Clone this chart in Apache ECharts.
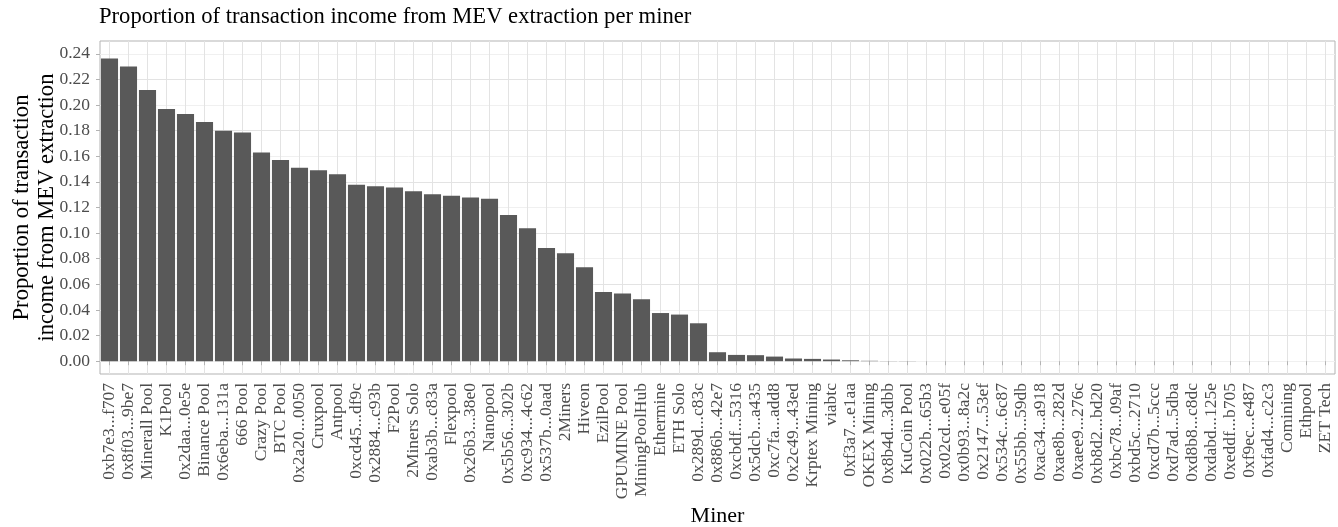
<!DOCTYPE html>
<html>
<head>
<meta charset="utf-8">
<script src="https://cdn.jsdelivr.net/npm/echarts@6/dist/echarts.min.js"></script>
<style>
html,body{margin:0;padding:0;background:#fff;}
#chart{width:1338px;height:527px;}
</style>
</head>
<body>
<div id="chart"></div>
<script>
const miners = [
  "0xb7e3...f707","0x8f03...9be7","Minerall Pool","K1Pool","0x2daa...0e5e","Binance Pool",
  "0x6eba...131a","666 Pool","Crazy Pool","BTC Pool","0x2a20...0050","Cruxpool","Antpool",
  "0xcd45...df9c","0x2884...c93b","F2Pool","2Miners Solo","0xab3b...c83a","Flexpool",
  "0x26b3...38e0","Nanopool","0x5b56...302b","0xc934...4c62","0x537b...0aad","2Miners",
  "Hiveon","EzilPool","GPUMINE Pool","MiningPoolHub","Ethermine","ETH Solo","0x289d...c83c",
  "0x886b...42e7","0xcbdf...5316","0x5dcb...a435","0xc7fa...add8","0x2c49...43ed",
  "Krptex Mining","viabtc","0xf3a7...e1aa","OKEX Mining","0x8b4d...3dbb","KuCoin Pool",
  "0x022b...65b3","0x02cd...e05f","0x0b93...8a2c","0x2147...53ef","0x534c...6c87",
  "0x55bb...59db","0xac34...a918","0xae8b...282d","0xaee9...276c","0xb8d2...bd20",
  "0xbc78...09af","0xbd5c...2710","0xcd7b...5ccc","0xd7ad...5dba","0xd8b8...c8dc",
  "0xdabd...125e","0xeddf...b705","0xf9ec...e487","0xfad4...c2c3","Comining","Ethpool","ZET Tech"
];
const mevShare = [
  0.2364,0.2300,0.2118,0.1970,0.1930,0.1868,0.1800,0.1785,0.1630,0.1570,
  0.1510,0.1491,0.1460,0.1377,0.1366,0.1356,0.1327,0.1304,0.1291,0.1278,
  0.1268,0.1142,0.1038,0.0884,0.0842,0.0733,0.0540,0.0528,0.0483,0.0376,
  0.0364,0.0296,0.0070,0.0049,0.0047,0.0036,0.0021,0.0018,0.0013,0.0007,
  0.0003,0.0001,0.0001,0,0,0,0,0,0,0,
  0,0,0,0,0,0,0,0,0,0,
  0,0,0,0,0
];
const yTicks = [0,0.02,0.04,0.06,0.08,0.10,0.12,0.14,0.16,0.18,0.20,0.22,0.24];

const serif = "'Liberation Serif','DejaVu Serif',serif";
const chart = echarts.init(document.getElementById('chart'));
chart.setOption({
  animation: false,
  title: {
    text: 'Proportion of transaction income from MEV extraction per miner',
    left: 94, top: 1,
    textStyle: {fontFamily: serif, fontSize: 22.6, fontWeight: 'normal', color: '#000'}
  },
  grid: {left: 100, right: 3, top: 41, bottom: 153, containLabel: false, outerBoundsMode: 'none',
         show: true, borderColor: '#b3b3b3', borderWidth: 1, backgroundColor: 'transparent'},
  xAxis: {
    type: 'category',
    data: miners,
    name: 'Miner',
    nameLocation: 'middle',
    nameGap: 131,
    nameMoveOverlap: false,
    nameTextStyle: {fontFamily: serif, fontSize: 22, color: '#000'},
    axisLine: {show: false},
    axisTick: {show: true, alignWithLabel: true, length: 4, lineStyle: {color: '#b3b3b3'}},
    splitLine: {show: true, alignWithLabel: true, lineStyle: {color: '#e3e3e3', width: 1}},
    axisLabel: {rotate: 90, interval: 0, margin: 9, fontFamily: serif, fontSize: 17.5, color: '#4d4d4d'}
  },
  yAxis: {
    type: 'value',
    min: -0.01, max: 0.25, interval: 0.01,
    name: 'Proportion of transaction\nincome from MEV extraction',
    nameLocation: 'middle',
    nameRotate: 90,
    nameGap: 40,
    nameMoveOverlap: false,
    nameTextStyle: {fontFamily: serif, fontSize: 22.6, color: '#000', lineHeight: 25, align: 'center'},
    axisLine: {show: false},
    axisTick: {show: true, length: 4, customValues: yTicks, lineStyle: {color: '#b3b3b3'}},
    axisLabel: {customValues: yTicks, margin: 10, fontFamily: serif, fontSize: 17.5, color: '#4d4d4d',
                formatter: v => v.toFixed(2)},
    splitLine: {show: true, lineStyle: {color: ['#f0f0f0', '#e3e3e3'], width: 1}}
  },
  series: [{
    type: 'bar',
    data: mevShare,
    barCategoryGap: '10%',
    itemStyle: {color: '#595959'}
  }]
});
</script>
</body>
</html>
